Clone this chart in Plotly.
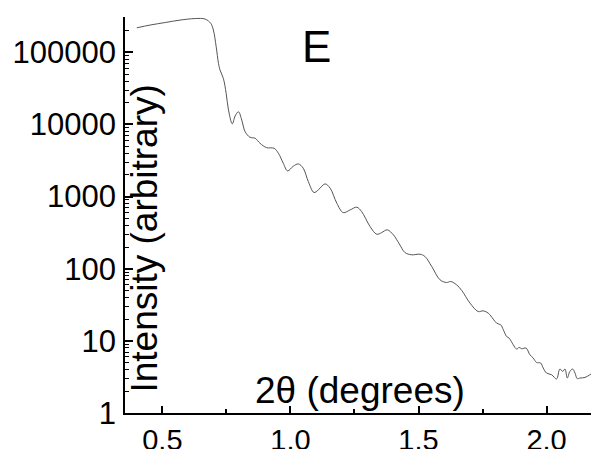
import plotly.graph_objects as go

# 2-theta (degrees)
two_theta = [0.400, 0.452, 0.511, 0.569, 0.628, 0.667, 0.689, 0.699, 0.710, 0.719,
             0.725, 0.738, 0.749, 0.758, 0.773, 0.784, 0.797, 0.810, 0.823, 0.842,
             0.862, 0.881, 0.907, 0.936, 0.953, 0.972, 0.989, 1.011, 1.031, 1.050,
             1.070, 1.092, 1.109, 1.135, 1.155, 1.181, 1.206, 1.233, 1.259, 1.278,
             1.311, 1.337, 1.356, 1.378, 1.402, 1.425, 1.447, 1.473, 1.506, 1.525,
             1.552, 1.584, 1.610, 1.626, 1.649, 1.669, 1.701, 1.733, 1.753, 1.772,
             1.792, 1.805, 1.821, 1.831, 1.844, 1.854, 1.870, 1.883, 1.893, 1.903,
             1.920, 1.935, 1.948, 1.961, 1.977, 1.987, 2.000, 2.020, 2.039, 2.052,
             2.063, 2.072, 2.081, 2.091, 2.102, 2.111, 2.120, 2.130, 2.150, 2.169,
             2.182, 2.198]

# Intensity (arbitrary units)
intensity = [219000, 239000, 259000, 280000, 294000, 289000, 252000, 204000, 120000, 70400,
             56900, 43600, 27000, 15900, 10200, 13100, 15000, 11500, 7950, 6650,
             6440, 5490, 4770, 4680, 3990, 2900, 2270, 2640, 2840, 2470,
             1610, 1140, 1240, 1500, 1310, 811, 600, 654, 713, 620,
             384, 301, 317, 346, 295, 221, 168, 156, 159, 148,
             107, 70.2, 64.4, 66.5, 59.8, 49.9, 33.4, 25.5, 26.1, 24.3,
             20.0, 17.6, 16.7, 14.3, 11.5, 10.9, 8.83, 7.70, 8.11, 7.78,
             7.95, 6.42, 5.78, 5.02, 4.93, 4.20, 3.58, 3.39, 2.96, 4.07,
             3.77, 4.07, 3.05, 3.77, 4.07, 3.58, 2.99, 3.05, 3.11, 3.39,
             3.65, 4.20]

x_tick_vals = [0.5, 1.0, 1.5, 2.0]
x_tick_text = ["0.5", "1.0", "1.5", "2.0"]
x_minor_vals = [0.75, 1.25, 1.75]
y_tick_vals = [1, 10, 100, 1000, 10000, 100000]
y_tick_text = ["1", "10", "100", "1000", "10000", "100000"]
y_minor_vals = [m * 10 ** d for d in range(0, 6) for m in range(2, 10)]

FONT = "Arial, Liberation Sans, sans-serif"

fig = go.Figure()
fig.add_trace(go.Scatter(x=two_theta, y=intensity, mode="lines",
                         line=dict(color="#555555", width=1), line_shape="spline",
                         showlegend=False))

# page body has an 8px margin; figure sized to fill the rest of the window
fig.update_layout(
    width=591, height=441,
    margin=dict(l=117, r=2, t=9, b=36, autoexpand=False),
    paper_bgcolor="white", plot_bgcolor="white",
    xaxis=dict(range=[0.354, 2.197], showgrid=False, zeroline=False, automargin=False,
               showline=True, linecolor="black", linewidth=1.5,
               ticks="inside", ticklen=7, tickwidth=1.5, tickcolor="black",
               tickmode="array", tickvals=x_tick_vals, ticktext=x_tick_text,
               tickfont=dict(family=FONT, size=29, color="black"),
               minor=dict(tickmode="array", tickvals=x_minor_vals, ticks="inside",
                          ticklen=4, tickwidth=1.5, tickcolor="black", showgrid=False)),
    yaxis=dict(type="log", range=[0, 5.49], showgrid=False, zeroline=False, automargin=False,
               showline=True, linecolor="black", linewidth=1.5,
               ticks="inside", ticklen=8, tickwidth=1.5, tickcolor="black",
               tickmode="array", tickvals=y_tick_vals, ticktext=y_tick_text,
               tickfont=dict(family=FONT, size=31, color="black"),
               ticklabelstandoff=1,
               minor=dict(tickmode="array", tickvals=y_minor_vals, ticks="inside",
                          ticklen=4, tickwidth=1, tickcolor="black", showgrid=False)),
    annotations=[
        dict(text="Intensity (arbitrary)", textangle=-90, xref="paper", yref="paper",
             x=0.042, y=0.44, xanchor="center", yanchor="middle", showarrow=False,
             font=dict(family=FONT, size=37, color="black")),
        dict(text="2θ (degrees)", xref="paper", yref="paper",
             x=0.498, y=0.0, xanchor="center", yanchor="bottom", showarrow=False,
             font=dict(family=FONT, size=37, color="black")),
        dict(text="E", xref="paper", yref="paper",
             x=0.406, y=0.925, xanchor="center", yanchor="middle", showarrow=False,
             font=dict(family=FONT, size=44, color="black")),
    ],
)

fig.write_html("out.html")
